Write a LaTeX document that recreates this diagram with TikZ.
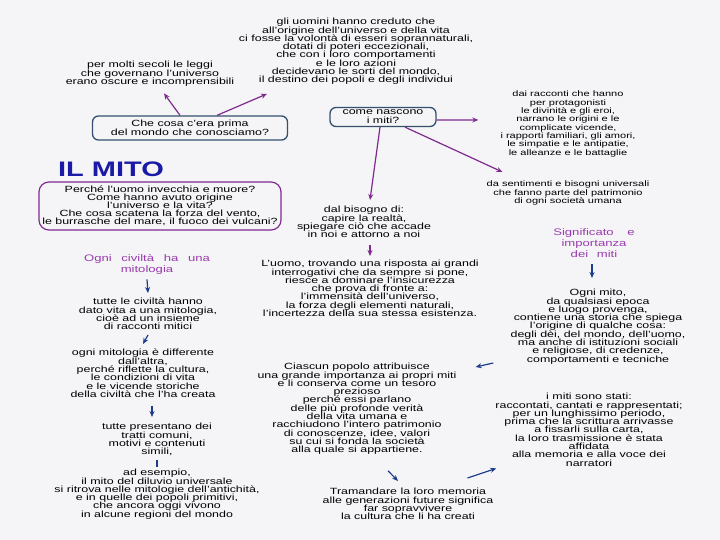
\documentclass[tikz,border=0pt]{standalone}
\usepackage{fontspec}
\setmainfont{Liberation Sans}[FakeStretch=1.38]
\usetikzlibrary{arrows.meta}
\definecolor{mitoviola}{HTML}{7E2A8E}
\definecolor{mitoblu}{HTML}{1E3C8C}
\definecolor{bordo}{HTML}{34506E}
\definecolor{titolo}{HTML}{1A1AA6}
\definecolor{sfondo}{HTML}{F5F5F7}
\definecolor{lilla}{HTML}{9A3CAE}
\newcommand{\carattere}[2]{\fontsize{#1}{#2}\selectfont\lineskiplimit=-20pt\relax}

\begin{document}
\begin{tikzpicture}[x=1pt,y=-1pt,
  testo/.style={align=center,font={\carattere{9}{8.3}},inner sep=2pt,anchor=north},
  piccolo/.style={font={\carattere{8}{8.3}}},
  riquadro/.style={draw=bordo,line width=1.3pt,rounded corners=6pt,align=center,font={\carattere{9}{9}}},
  titoletto/.style={align=center,text=lilla,font={\carattere{9.5}{11}},inner sep=2pt,anchor=north},
  frviola/.style={draw=mitoviola,line width=1.2pt,-{Stealth[length=6pt,width=5pt]}},
  frblu/.style={draw=mitoblu,line width=1.2pt,-{Stealth[length=6pt,width=5pt]}}]
  \fill[sfondo] (0,0) rectangle (720,540);
  \useasboundingbox (0,0) rectangle (720,540);

  % in alto
  \node[testo] (origine) at (356,16) {gli uomini hanno creduto che\\all'origine dell'universo e della vita\\ci fosse la volontà di esseri soprannaturali,\\dotati di poteri eccezionali,\\che con i loro comportamenti\\e le loro azioni\\decidevano le sorti del mondo,\\il destino dei popoli e degli individui};
  \node[testo] (leggi) at (150,59) {per molti secoli le leggi\\che governano l'universo\\erano oscure e incomprensibili};
  \node[riquadro,minimum width=195pt,minimum height=24pt] (prima) at (190,128) {Che cosa c'era prima\\del mondo che conosciamo?};
  \node[riquadro,minimum width=106pt,minimum height=19pt,inner sep=1pt] (nascono) at (383,117) {come nascono\\i miti?};
  \node[testo,piccolo] (racconti) at (568,89) {dai racconti che hanno\\per protagonisti\\le divinità e gli eroi,\\narrano le origini e le\\complicate vicende,\\i rapporti familiari, gli amori,\\le simpatie e le antipatie,\\le alleanze e le battaglie};
  \node[testo,piccolo] (sentimenti) at (568,179) {da sentimenti e bisogni universali\\che fanno parte del patrimonio\\di ogni società umana};

  % colonna sinistra
  \node[font=\fontsize{21}{21}\selectfont\bfseries,text=titolo] (mito) at (111,169) {IL MITO};
  \node[draw=mitoviola,line width=1.2pt,rounded corners=10pt,minimum width=232pt,minimum height=48pt,
    align=center,font={\carattere{9}{8}}] (domande) at (160,206) {Perché l'uomo invecchia e muore?\\Come hanno avuto origine\\l'universo e la vita?\\Che cosa scatena la forza del vento,\\le burrasche del mare, il fuoco dei vulcani?};
  \node[titoletto] (civilta) at (147,252) {Ogni\hspace{6pt} civiltà\hspace{6pt} ha\hspace{6pt} una\\mitologia};
  \node[testo] (dato) at (148,296) {tutte le civiltà hanno\\dato vita a una mitologia,\\cioè ad un insieme\\di racconti mitici};
  \node[testo] (diversa) at (143,347) {ogni mitologia è differente\\dall'altra,\\perché riflette la cultura,\\le condizioni di vita\\e le vicende storiche\\della civiltà che l'ha creata};
  \node[testo] (tratti) at (157,421) {tutte presentano dei\\tratti comuni,\\motivi e contenuti\\simili,};
  \node[testo] (diluvio) at (157,467) {ad esempio,\\il mito del diluvio universale\\si ritrova nelle mitologie dell'antichità,\\e in quelle dei popoli primitivi,\\che ancora oggi vivono\\in alcune regioni del mondo};

  % colonna centrale
  \node[testo] (bisogno) at (364,204) {dal bisogno di:\\capire la realtà,\\spiegare ciò che accade\\in noi e attorno a noi};
  \node[testo] (uomo) at (370,258) {L'uomo, trovando una risposta ai grandi\\interrogativi che da sempre si pone,\\riesce a dominare l'insicurezza\\che prova di fronte a:\\l'immensità dell'universo,\\la forza degli elementi naturali,\\l'incertezza della sua stessa esistenza.};
  \node[testo] (popolo) at (357,361) {Ciascun popolo attribuisce\\una grande importanza ai propri miti\\e li conserva come un tesoro\\prezioso\\perché essi parlano\\delle più profonde verità\\della vita umana e\\racchiudono l'intero patrimonio\\di conoscenze, idee, valori\\su cui si fonda la società\\alla quale si appartiene.};
  \node[testo] (memoria) at (408,486) {Tramandare la loro memoria\\alle generazioni future significa\\far sopravvivere\\la cultura che li ha creati};

  % colonna destra
  \node[titoletto] (significato) at (594,226) {Significato\hspace{10pt} e\\importanza\\dei\hspace{5pt} miti};
  \node[testo] (ognimito) at (598,287) {Ogni mito,\\da qualsiasi epoca\\e luogo provenga,\\contiene una storia che spiega\\l'origine di qualche cosa:\\degli dèi, del mondo, dell'uomo,\\ma anche di istituzioni sociali\\e religiose, di credenze,\\comportamenti e tecniche};
  \node[testo] (narrati) at (589,391) {i miti sono stati:\\raccontati, cantati e rappresentati;\\per un lunghissimo periodo,\\prima che la scrittura arrivasse\\a fissarli sulla carta,\\la loro trasmissione è stata\\affidata\\alla memoria e alla voce dei\\narratori};

  % frecce
  \draw[frviola] ([xshift=-10pt]prima.north) -- ([xshift=14pt,yshift=-5pt]leggi.south);
  \draw[frviola] ([xshift=27pt]prima.north) -- ([xshift=-89pt,yshift=-7pt]origine.south);
  \draw[frviola] ([xshift=-3pt]nascono.south) -- ([xshift=6pt,yshift=4pt]bisogno.north);
  \draw[frviola] ([yshift=-3pt]nascono.east) -- ([xshift=-20pt,yshift=4pt]racconti.west);
  \draw[frviola] ([xshift=22pt]nascono.south) -- ([xshift=18pt,yshift=7pt]sentimenti.north west);
  \draw[frviola] ([xshift=6pt,yshift=-5pt]bisogno.south) -- ([yshift=2pt]uomo.north);
  \draw[frblu] ([yshift=-3pt]civilta.south) -- ([yshift=3pt]dato.north);
  \draw[frblu] ([yshift=-3pt]dato.south) -- ([yshift=3pt]diversa.north);
  \draw[frblu] ([xshift=9pt,yshift=-6pt]diversa.south) -- ([xshift=-5pt,yshift=4pt]tratti.north);
  \draw[mitoblu,line width=1.6pt] ([yshift=-2pt]tratti.south) -- (diluvio.north);
  \draw[frblu] ([xshift=-2pt,yshift=-5pt]significato.south) -- ([xshift=-6pt,yshift=9pt]ognimito.north);
  \draw[frblu] ([yshift=28pt]narrati.north west) -- ([xshift=17pt,yshift=-6pt]popolo.north east);
  \draw[frblu] ([xshift=31pt,yshift=-14pt]popolo.south) -- ([xshift=-10pt,yshift=5pt]memoria.north);
  \draw[frblu] ([xshift=-28pt,yshift=8pt]memoria.north east) -- ([xshift=3pt]narrati.south west);
\end{tikzpicture}
\end{document}
